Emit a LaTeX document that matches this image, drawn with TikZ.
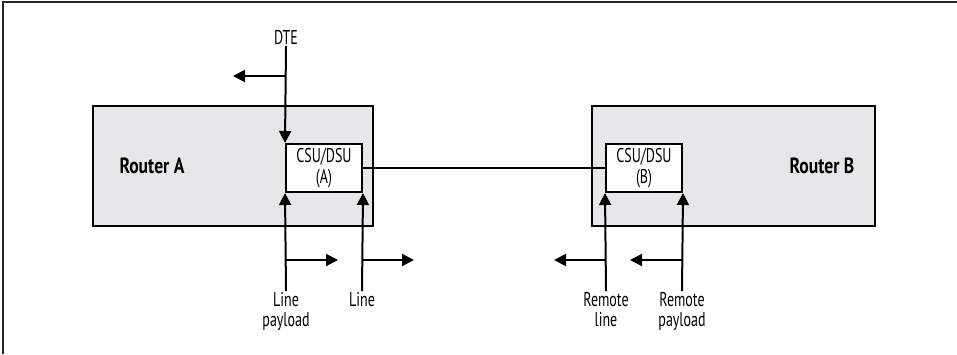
\documentclass[tikz,border=0pt]{standalone}
\usepackage{fontspec}
\setmainfont{PT Sans}[FakeStretch=0.70]
\newfontfamily\routerfont{PT Sans}[FakeStretch=0.80]
\usepackage{xcolor}
\usepackage{tikz}
\usetikzlibrary{arrows.meta,calc}

\definecolor{routergray}{RGB}{230,231,233}

\begin{document}
\begin{tikzpicture}[
  x=1pt, y=-1pt,
  router/.style={draw, line width=2pt, fill=routergray,
                 minimum height=120pt, inner sep=0pt},
  csu/.style={draw, line width=2pt, fill=white,
              minimum width=76pt, minimum height=48pt,
              align=center, inner sep=0pt,
              font=\fontsize{20}{21}\selectfont},
  rname/.style={font=\routerfont\fontsize{22}{24}\selectfont\bfseries},
  lbl/.style={align=center, inner sep=1pt,
              font=\fontsize{20}{20}\selectfont},
  arr/.style={-{Triangle[length=12pt,width=12pt]}, line width=2pt},
  line/.style={line width=2pt},
]

%% Canvas and frame
\useasboundingbox (0,0) rectangle (957,354);
\draw[line width=1.5pt, black!85] (3,354) -- (3,2) -- (957,2);

%% Routers
\node[router, minimum width=280pt] (ra) at (233,166) {};
\node[router, minimum width=283pt] (rb) at (733.5,166) {};
\node[rname] (ralbl) at (152,166) {Router A};
\node[rname] (rblbl) at (822,166) {Router B};

%% CSU/DSU units
\node[csu] (csua) at (324,168) {CSU/DSU\\(A)};
\node[csu] (csub) at (644,168) {CSU/DSU\\(B)};
\draw[line] (csua.east) -- (csub.west);

%% DTE feed
\node[lbl, anchor=south] (dte) at (286,46) {DTE};
\draw[arr] (dte.south) -- (csua.north west);
\coordinate (dtebr) at (286,76);
\coordinate (dtetip) at (233,76);
\draw[arr] (dtebr) -- (dtetip);

%% Loopback points below the routers
\node[lbl, anchor=north] (lpay) at (286,291) {Line\\payload};
\node[lbl, anchor=north] (lline) at (362,291) {Line};
\node[lbl, anchor=north] (rline) at (606,291) {Remote\\line};
\node[lbl, anchor=north] (rpay) at (682,291) {Remote\\payload};

\draw[arr] (lpay.north) -- (csua.south west);
\draw[arr] (lline.north) -- (csua.south east);
\draw[arr] (rline.north) -- (csub.south west);
\draw[arr] (rpay.north) -- (csub.south east);

\coordinate (lpaybr) at ($(lpay.north)+(0,-31)$);
\coordinate (llinebr) at ($(lline.north)+(0,-31)$);
\coordinate (rlinebr) at ($(rline.north)+(0,-31)$);
\coordinate (rpaybr) at ($(rpay.north)+(0,-31)$);
\draw[arr] (lpaybr) -- ++(52,0) coordinate (lpaytip);
\draw[arr] (llinebr) -- ++(52,0) coordinate (llinetip);
\draw[arr] (rlinebr) -- ++(-52,0) coordinate (rlinetip);
\draw[arr] (rpaybr) -- ++(-52,0) coordinate (rpaytip);

\end{tikzpicture}
\end{document}
